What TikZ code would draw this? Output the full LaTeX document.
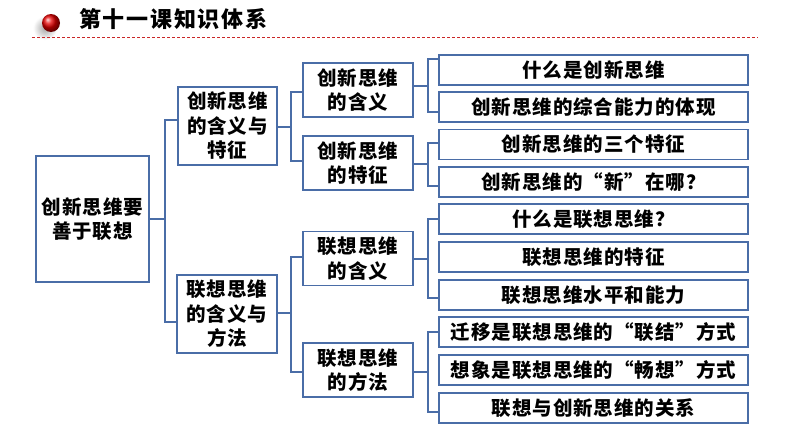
\documentclass[tikz,border=0pt]{standalone}
\usepackage{fontspec}
\newfontfamily\cjk{Noto Sans CJK SC}[LetterSpace=5]
\newfontfamily\cjkt{Noto Sans CJK SC}[LetterSpace=8]
\definecolor{boxc}{HTML}{4A6DA7}
\definecolor{titlered}{HTML}{C00000}
\begin{document}
\begin{tikzpicture}[x=1pt,y=-1pt,
  box/.style={draw=boxc, line width=1.8pt, fill=white, inner sep=0pt, align=center,
    font=\cjk\bfseries\fontsize{19.5}{24.5}\selectfont},
  leaf/.style={box, minimum width=309pt, minimum height=30pt},
  mid/.style={box, minimum width=110pt, minimum height=54pt},
  conn/.style={draw=boxc, line width=1.8pt}]
\useasboundingbox (0,0) rectangle (794,447);
\fill[white] (0,0) rectangle (794,447);

% header
\shade[inner color=black!35, outer color=white] (45,28) circle (12);
\shade[ball color=red!90!black] (51,23) circle (9);
\node[anchor=west, inner sep=0pt, font=\cjkt\bfseries\fontsize{22}{22}\selectfont] (title) at (79,19) {第十一课知识体系};
\coordinate (dl) at (32,37.5);
\coordinate (dr) at (758,37.5);
\draw[titlered!85, line width=0.8pt, dash pattern=on 3pt off 2pt] (dl) -- (dr);

% nodes
\node[box, minimum width=113pt, minimum height=126pt] (root) at (92.5,219) {创新思维要\\善于联想};
\node[box, minimum width=99pt, minimum height=78pt] (A) at (227.5,126) {创新思维\\的含义与\\特征};
\node[box, minimum width=100pt, minimum height=78pt] (B) at (227,314) {联想思维\\的含义与\\方法};
\node[mid] (A1) at (358,90) {创新思维\\的含义};
\node[mid] (A2) at (358,163) {创新思维\\的特征};
\node[mid] (B1) at (358,258.5) {联想思维\\的含义};
\node[mid] (B2) at (358,370) {联想思维\\的方法};
\node[leaf] (L1) at (593.5,70) {什么是创新思维};
\node[leaf] (L2) at (593.5,107) {创新思维的综合能力的体现};
\node[leaf] (L3) at (593.5,144.5) {创新思维的三个特征};
\node[leaf] (L4) at (593.5,182) {创新思维的“新”在哪？};
\node[leaf] (L5) at (593.5,219) {什么是联想思维？};
\node[leaf] (L6) at (593.5,257) {联想思维的特征};
\node[leaf] (L7) at (593.5,295) {联想思维水平和能力};
\node[leaf] (L8) at (593.5,332) {迁移是联想思维的“联结”方式};
\node[leaf] (L9) at (593.5,370) {想象是联想思维的“畅想”方式};
\node[leaf] (L10) at (593.5,408) {联想与创新思维的关系};

% root bracket
\coordinate (r0) at (165,219);
\coordinate (ra) at (165,120);
\coordinate (rb) at (165,322);
\draw[conn] (root.east) -- (r0);
\draw[conn] (ra -| A.west) -- (ra) -- (rb) -- (rb -| B.west);

% A bracket
\coordinate (a0) at (291,127);
\coordinate (aa) at (291,92);
\coordinate (ab) at (291,161);
\draw[conn] (a0 -| A.east) -- (a0);
\draw[conn] (aa -| A1.west) -- (aa) -- (ab) -- (ab -| A2.west);

% B bracket
\coordinate (b0) at (291,313);
\coordinate (ba) at (291,257);
\coordinate (bb) at (291,372);
\draw[conn] (b0 -| B.east) -- (b0);
\draw[conn] (ba -| B1.west) -- (ba) -- (bb) -- (bb -| B2.west);

% A1 bracket
\coordinate (c0) at (428,86);
\coordinate (ca) at (428,59);
\coordinate (cb) at (428,112);
\draw[conn] (c0 -| A1.east) -- (c0);
\draw[conn] (ca -| L1.west) -- (ca) -- (cb) -- (cb -| L2.west);

% A2 bracket
\coordinate (d0) at (428,164);
\coordinate (da) at (428,143);
\coordinate (db) at (428,186);
\draw[conn] (d0 -| A2.east) -- (d0);
\draw[conn] (da -| L3.west) -- (da) -- (db) -- (db -| L4.west);

% B1 bracket
\coordinate (e0) at (428,259);
\coordinate (ea) at (428,219);
\coordinate (eb) at (428,298);
\draw[conn] (e0 -| B1.east) -- (e0);
\draw[conn] (ea -| L5.west) -- (ea) -- (eb) -- (eb -| L7.west);

% B2 bracket
\coordinate (f0) at (428,372);
\coordinate (fa) at (428,332);
\coordinate (fb) at (428,412);
\draw[conn] (f0 -| B2.east) -- (f0);
\draw[conn] (fa -| L8.west) -- (fa) -- (fb) -- (fb -| L10.west);
\end{tikzpicture}
\end{document}
